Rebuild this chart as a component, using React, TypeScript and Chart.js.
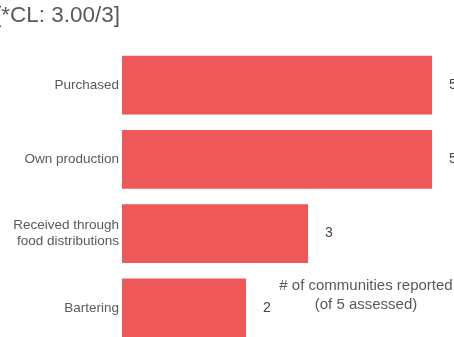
import React, { useEffect, useRef } from "react";
import { Chart, registerables } from "chart.js";

Chart.register(...registerables);

const titleText = "[*CL: 3.00/3]";
const categories: (string | string[])[] = [
  "Purchased",
  "Own production",
  ["Received through", "food distributions"],
  "Bartering",
];
const values = [5, 5, 3, 2];
const legendLines = ["# of communities reported", "(of 5 assessed)"];

const FONT = "'Liberation Sans', Arial, sans-serif";
const BAR_COLOR = "#EE5859";
const TEXT_COLOR = "#58595B";

const valueLabels = {
  id: "valueLabels",
  afterDatasetsDraw(chart: any) {
    const ctx = chart.ctx;
    const meta = chart.getDatasetMeta(0);
    ctx.save();
    ctx.font = `14px ${FONT}`;
    ctx.fillStyle = "#444444";
    ctx.textAlign = "left";
    ctx.textBaseline = "middle";
    meta.data.forEach((bar: any, i: number) => {
      ctx.fillText(String(values[i]), bar.x + 17, bar.y);
    });
    ctx.restore();
  },
};

const legendNote = {
  id: "legendNote",
  afterDraw(chart: any) {
    const ctx = chart.ctx;
    const { right, bottom } = chart.chartArea;
    ctx.save();
    ctx.font = `15px ${FONT}`;
    ctx.fillStyle = TEXT_COLOR;
    ctx.textAlign = "center";
    ctx.textBaseline = "middle";
    const x = right - 66;
    legendLines.forEach((t, i) => {
      ctx.fillText(t, x, bottom - 59 + i * 19);
    });
    ctx.restore();
  },
};

export default function App() {
  const ref = useRef<HTMLCanvasElement | null>(null);

  useEffect(() => {
    if (!ref.current) return;
    const chart = new Chart(ref.current, {
      type: "bar",
      data: {
        labels: categories as any,
        datasets: [
          {
            data: values,
            backgroundColor: BAR_COLOR,
            borderWidth: 0,
            barPercentage: 0.79,
            categoryPercentage: 1,
          },
        ],
      },
      options: {
        indexAxis: "y",
        animation: false,
        responsive: false,
        maintainAspectRatio: false,
        layout: { padding: { left: 0, right: 37, top: 0, bottom: 5 } },
        plugins: {
          legend: { display: false },
          tooltip: { enabled: false },
          title: {
            display: true,
            text: titleText,
            align: "start",
            color: TEXT_COLOR,
            font: { family: FONT, size: 22.5, weight: "normal" as any, lineHeight: 1.2 },
            padding: { top: 2.3, bottom: 18.7 },
          },
        },
        scales: {
          x: {
            display: false,
            min: 0,
            max: 5,
          },
          y: {
            grid: { display: false, drawTicks: false },
            border: { display: false },
            ticks: {
              color: TEXT_COLOR,
              font: { family: FONT, size: 13.5, lineHeight: 1.2 },
              padding: 3,
            },
            afterFit(scale: any) {
              scale.width = 127;
            },
          },
        },
      },
      plugins: [valueLabels, legendNote],
    });
    return () => chart.destroy();
  }, []);

  return (
    <div
      style={{
        position: "fixed",
        left: 0,
        top: 0,
        width: 454,
        height: 337,
        overflow: "hidden",
        background: "#fff",
      }}
    >
      <canvas
        ref={ref}
        width={474}
        height={356}
        style={{ position: "absolute", left: -5, top: 0, width: 474, height: 356 }}
      />
    </div>
  );
}
